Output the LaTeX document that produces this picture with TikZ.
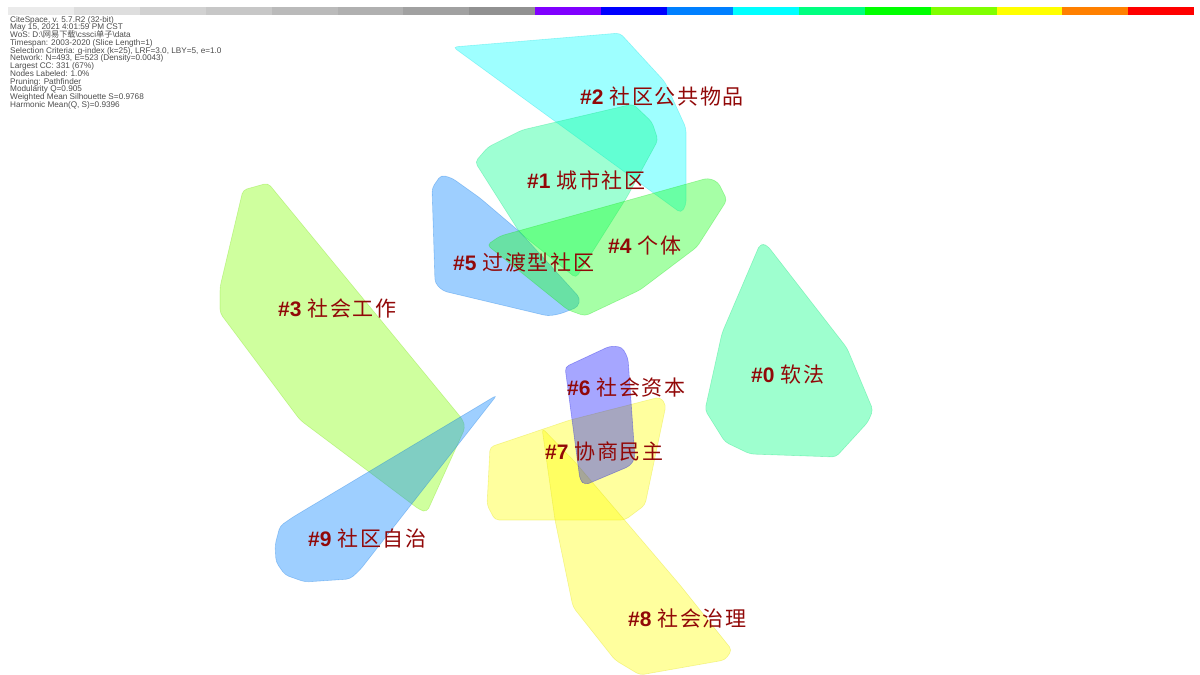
\documentclass[tikz,border=0pt]{standalone}
\usepackage{fontspec}
\setmainfont{Liberation Sans}
\newfontfamily\cjk[LetterSpace=8]{Noto Sans CJK SC}
\newfontfamily\cjksmall{Noto Sans CJK SC}
\newcommand\infofont{\fontsize{8.2}{7.75}\selectfont\setlength{\lineskiplimit}{-6pt}}
\definecolor{labelred}{RGB}{145,8,8}
\definecolor{k0}{RGB}{0,255,128}
\definecolor{k1}{RGB}{0,255,140}
\definecolor{k2}{RGB}{0,255,255}
\definecolor{k3}{RGB}{128,255,0}
\definecolor{k4}{RGB}{20,255,20}
\definecolor{k5}{RGB}{0,128,255}
\definecolor{k6}{RGB}{0,0,255}
\definecolor{k7}{RGB}{255,255,0}
\definecolor{k8}{RGB}{255,255,0}
\definecolor{k9}{RGB}{0,128,255}
% slice colours
\definecolor{s8}{RGB}{128,0,255}
\definecolor{s9}{RGB}{0,0,255}
\definecolor{s10}{RGB}{0,128,255}
\definecolor{s11}{RGB}{0,255,255}
\definecolor{s12}{RGB}{0,255,128}
\definecolor{s13}{RGB}{0,255,0}
\definecolor{s14}{RGB}{128,255,0}
\definecolor{s15}{RGB}{255,255,0}
\definecolor{s16}{RGB}{255,128,0}
\definecolor{s17}{RGB}{255,0,0}
\begin{document}
\begin{tikzpicture}[x=1pt,y=-1pt,
    hull/.style={fill=#1,fill opacity=.38,draw=#1!85!black,draw opacity=.3,line width=.6pt,rounded corners=4pt},
    clabel/.style={text=labelred,font=\fontsize{21}{23}\selectfont,inner sep=0pt,anchor=west},
    info/.style={font=\infofont,text=black!70,anchor=north west,inner sep=0pt,align=left}]
\useasboundingbox (0,0) rectangle (1200,675);
% time slice bar
\foreach \c [count=\i from 0] in {black!8,black!13,black!18,black!22,black!27,black!31,black!37,black!43,
    s8,s9,s10,s11,s12,s13,s14,s15,s16,s17}
  \fill[fill=\c] (8+\i*65.9,7) rectangle +(65.9,8);
% run information
\node[info] (info) at (10,16) {CiteSpace, v. 5.7.R2 (32-bit)\\
  May 15, 2021 4:01:59 PM CST\\
  WoS: D:\textbackslash{\cjksmall 网易下载}\textbackslash cssci{\cjksmall 单子}\textbackslash data\\
  Timespan: 2003-2020 (Slice Length=1)\\
  Selection Criteria: g-index (k=25), LRF=3.0, LBY=5, e=1.0\\
  Network: N=493, E=523 (Density=0.0043)\\
  Largest CC: 331 (67\%)\\
  Nodes Labeled: 1.0\%\\
  Pruning: Pathfinder\\
  Modularity Q=0.905\\
  Weighted Mean Silhouette S=0.9768\\
  Harmonic Mean(Q, S)=0.9396};
% cluster hulls
\draw[hull=k2] (453,47) -- (620,33) -- (665,82) -- (686,128) -- (686,205) -- (681,213) -- cycle;
\draw[hull=k1] (475,162) -- (488,147) -- (522,130) -- (633,104) -- (652,122) -- (658,140) -- (627,197) -- (576,278) -- (520,233) -- cycle;
\draw[hull=k3] (243,190) -- (268,183) -- (463,420) -- (465,428) -- (427,512) -- (420,510) -- (300,420) -- (220,313) -- (220,287) -- cycle;
\draw[hull=k5] (432,188) -- (441,175) -- (452,178) -- (480,198) -- (520,232) -- (580,298) -- (578,307) -- (560,314) -- (548,316) -- (443,291) -- (435,283) -- cycle;
\draw[hull=k4] (487,245) -- (500,236) -- (708,178) -- (718,182) -- (727,200) -- (697,247) -- (640,290) -- (585,316) -- (568,310) -- cycle;
\draw[hull=k0] (760,244) -- (767,245) -- (847,348) -- (873,410) -- (868,422) -- (836,457) -- (750,454) -- (725,442) -- (705,410) -- (722,333) -- cycle;
\draw[hull=k9] (497,395) -- (293,517) -- (280,526) -- (275,545) -- (276,562) -- (285,575) -- (305,582) -- (350,579) -- (360,570) -- cycle;
\draw[hull=k7] (490,447) -- (570,420) -- (660,397) -- (666,405) -- (645,505) -- (625,520) -- (495,520) -- (487,505) -- cycle;
\draw[hull=k8] (542,428) -- (575,462) -- (680,585) -- (732,650) -- (725,660) -- (640,675) -- (615,660) -- (573,607) -- (555,520) -- cycle;
\draw[hull=k6,fill opacity=.35] (565,367) -- (610,346) -- (622,347) -- (628,358) -- (635,458) -- (630,466) -- (585,485) -- (580,480) -- cycle;
% cluster labels
\node[clabel] (c2) at (580,96) {\textbf{\#2} \cjk 社区公共物品};
\node[clabel] (c1) at (527,180) {\textbf{\#1} \cjk 城市社区};
\node[clabel] (c4) at (608,245) {\textbf{\#4} \cjk 个体};
\node[clabel] (c5) at (453,262) {\textbf{\#5} \cjk 过渡型社区};
\node[clabel] (c3) at (278,308) {\textbf{\#3} \cjk 社会工作};
\node[clabel] (c6) at (567,388) {\textbf{\#6} \cjk 社会资本};
\node[clabel] (c0) at (751,375) {\textbf{\#0} \cjk 软法};
\node[clabel] (c7) at (545,452) {\textbf{\#7} \cjk 协商民主};
\node[clabel] (c9) at (308,538) {\textbf{\#9} \cjk 社区自治};
\node[clabel] (c8) at (628,618) {\textbf{\#8} \cjk 社会治理};
\end{tikzpicture}
\end{document}
